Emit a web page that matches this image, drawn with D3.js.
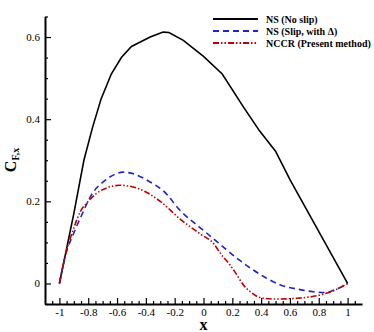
<!DOCTYPE html>
<html>
<head>
<meta charset="utf-8">
<script src="https://cdn.jsdelivr.net/npm/d3@7"></script>
<style>
  body { margin: 0; background: #fff; }
  svg { display: block; font-family: "Liberation Serif", "Times New Roman", serif; }
</style>
</head>
<body>
<div id="chart"></div>
<script>
// values
const nsX = [-1, -0.9, -0.83, -0.77, -0.71, -0.64, -0.57, -0.5, -0.37, -0.28, -0.24, -0.14, 0, 0.13, 0.28, 0.39, 0.5, 0.6, 1];
const nsY = [0, 0.17, 0.30, 0.38, 0.45, 0.51, 0.55, 0.577, 0.60, 0.612, 0.611, 0.592, 0.553, 0.51, 0.428, 0.371, 0.322, 0.253, 0];

const slipX = [-1, -0.96, -0.9, -0.85, -0.77, -0.69, -0.62, -0.56, -0.47, -0.37, -0.28, -0.16, -0.02, 0.12, 0.23, 0.38, 0.53, 0.67, 0.76, 0.84, 0.92, 1];
const slipY = [0, 0.066, 0.123, 0.163, 0.22, 0.249, 0.265, 0.271, 0.265, 0.247, 0.226, 0.177, 0.135, 0.094, 0.062, 0.025, -0.003, -0.015, -0.02, -0.022, -0.014, 0];

const nccrX = [-1, -0.95, -0.9, -0.855, -0.81, -0.74, -0.67, -0.58, -0.46, -0.3, -0.16, -0.02, 0.07, 0.12, 0.18, 0.22, 0.28, 0.34, 0.39, 0.5, 0.65, 0.81, 0.92, 1];
const nccrY = [0, 0.08, 0.135, 0.175, 0.196, 0.22, 0.233, 0.239, 0.232, 0.2, 0.156, 0.12, 0.097, 0.072, 0.047, 0.027, -0.005, -0.024, -0.034, -0.038, -0.036, -0.028, -0.015, 0];

const seriesNames = ['NS (No slip)', 'NS (Slip, with \u0394)', 'NCCR (Present method)'];
const xTicks = [-1, -0.8, -0.6, -0.4, -0.2, 0, 0.2, 0.4, 0.6, 0.8, 1];
const yTicks = [0, 0.2, 0.4, 0.6];

const width = 374, height = 332;
const svg = d3.select('#chart').append('svg')
    .attr('width', width)
    .attr('height', height);

const x = d3.scaleLinear().domain([-1.1, 1.1]).range([45, 362]);
const y = d3.scaleLinear().domain([-0.05, 0.65]).range([304, 16.5]);

// minor ticks every 0.05
const xMinor = d3.range(-21, 22).map(i => i * 0.05).filter(v => !xTicks.some(t => Math.abs(t - v) < 1e-6));
const yMinor = d3.range(-1, 14).map(i => i * 0.05).filter(v => !yTicks.some(t => Math.abs(t - v) < 1e-6));

const fmt = d => d === 0 ? '0' : String(+d.toFixed(1));

// x axis
svg.append('g')
    .attr('transform', `translate(0,${y(-0.05)})`)
    .call(d3.axisBottom(x).tickValues(xMinor).tickSize(-3).tickFormat(''))
    .call(g => g.select('.domain').remove());
const xAxis = svg.append('g')
    .attr('transform', `translate(0,${y(-0.05)})`)
    .call(d3.axisBottom(x).tickValues(xTicks).tickSize(-6).tickSizeOuter(0).tickPadding(4).tickFormat(fmt));
xAxis.select('.domain').attr('stroke-width', 2);

// y axis
svg.append('g')
    .attr('transform', `translate(${x(-1.1)},0)`)
    .call(d3.axisLeft(y).tickValues(yMinor).tickSize(-3).tickFormat(''))
    .call(g => g.select('.domain').remove());
const yAxis = svg.append('g')
    .attr('transform', `translate(${x(-1.1)},0)`)
    .call(d3.axisLeft(y).tickValues(yTicks).tickSize(-6).tickSizeOuter(0).tickPadding(5).tickFormat(fmt));
yAxis.select('.domain').attr('stroke-width', 2);

svg.selectAll('.tick line').attr('stroke', '#000').attr('stroke-width', 1.2);
svg.selectAll('.tick text')
    .style('font-family', '"Liberation Serif", "Times New Roman", serif')
    .style('font-size', '11px')
    .attr('fill', '#000');

// axis titles
svg.append('text')
    .attr('x', x(0))
    .attr('y', 330)
    .attr('text-anchor', 'middle')
    .style('font-size', '16px')
    .style('font-weight', 'bold')
    .text('x');

const yTitle = svg.append('text')
    .attr('transform', 'translate(16,160) rotate(-90)')
    .attr('text-anchor', 'middle')
    .style('font-weight', 'bold');
yTitle.append('tspan').style('font-size', '16px').text('C');
yTitle.append('tspan').style('font-size', '10px').attr('dy', 3).text('F,x');

// curves
const series = [
    { xs: nsX, ys: nsY, color: '#000000', dash: null, curve: d3.curveLinear },
    { xs: slipX, ys: slipY, color: '#2323c4', dash: '6,4', curve: d3.curveMonotoneX },
    { xs: nccrX, ys: nccrY, color: '#c00000', dash: '6,2,1.5,2,1.5,2', curve: d3.curveMonotoneX }
];

series.forEach(s => {
    const pts = s.xs.map((v, i) => [v, s.ys[i]]);
    svg.append('path')
        .datum(pts)
        .attr('fill', 'none')
        .attr('stroke', s.color)
        .attr('stroke-width', 1.6)
        .attr('stroke-dasharray', s.dash)
        .attr('d', d3.line().curve(s.curve).x(d => x(d[0])).y(d => y(d[1])));
});

// legend
const legend = svg.append('g');
series.forEach((s, i) => {
    const ly = 19 + i * 12;
    legend.append('line')
        .attr('x1', 213).attr('x2', 258)
        .attr('y1', ly).attr('y2', ly)
        .attr('stroke', s.color)
        .attr('stroke-width', 2)
        .attr('stroke-dasharray', s.dash);
    legend.append('text')
        .attr('x', 266)
        .attr('y', ly + 3.5)
        .style('font-size', '10px')
        .style('font-weight', 'bold')
        .text(seriesNames[i]);
});
</script>
</body>
</html>
